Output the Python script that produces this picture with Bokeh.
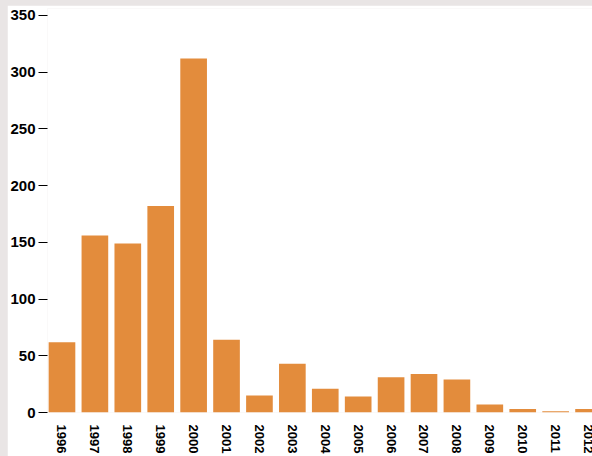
import numpy as np
from bokeh.plotting import figure
from bokeh.models import ColumnDataSource, FixedTicker, Range1d
from bokeh.layouts import column
from bokeh.embed import file_html
from bokeh.resources import INLINE

years = ["1996", "1997", "1998", "1999", "2000", "2001", "2002", "2003", "2004",
         "2005", "2006", "2007", "2008", "2009", "2010", "2011", "2012"]
counts = [62, 156, 149, 182, 312, 64, 15, 43, 21, 14, 31, 34, 29, 7, 3, 1, 3]
y_ticks = [0, 50, 100, 150, 200, 250, 300, 350]

idx = list(range(len(years)))
src = ColumnDataSource(dict(x=idx, top=counts))

p = figure(width=585, height=451, output_backend="svg", toolbar_location=None,
           x_range=Range1d(-0.44, 16.12), y_range=Range1d(0, 356),
           min_border_left=40, min_border_right=0, min_border_top=3, min_border_bottom=44)
p.margin = (5, 0, 0, 7)
p.vbar(x="x", top="top", width=0.81, source=src, fill_color="#e38c3c", line_color=None)

p.outline_line_color = None
p.xgrid.visible = False
p.ygrid.visible = False
p.background_fill_color = "white"
p.border_fill_color = "white"

ya = p.yaxis[0]
ya.ticker = FixedTicker(ticks=y_ticks)
ya.axis_line_color = None
ya.major_tick_out = 9
ya.major_tick_in = 0
ya.major_tick_line_color = "black"
ya.minor_tick_line_color = None
ya.major_label_standoff = 3
ya.major_label_text_font = "Liberation Sans"
ya.major_label_text_font_style = "bold"
ya.major_label_text_font_size = "15px"
ya.major_label_text_color = "black"

xa = p.xaxis[0]
xa.ticker = FixedTicker(ticks=idx)
xa.major_label_overrides = {i: y for i, y in zip(idx, years)}
xa.axis_line_color = None
xa.major_tick_line_color = None
xa.minor_tick_line_color = None
xa.major_tick_out = 0
xa.major_tick_in = 0
xa.major_label_standoff = 12
xa.major_label_orientation = "vertical"
xa.major_label_text_font = "Liberation Sans"
xa.major_label_text_font_style = "bold"
xa.major_label_text_font_size = "13px"
xa.major_label_text_color = "black"

layout = column(p, background="#e9e5e5")
open("out.html", "w").write(file_html(layout, INLINE))
